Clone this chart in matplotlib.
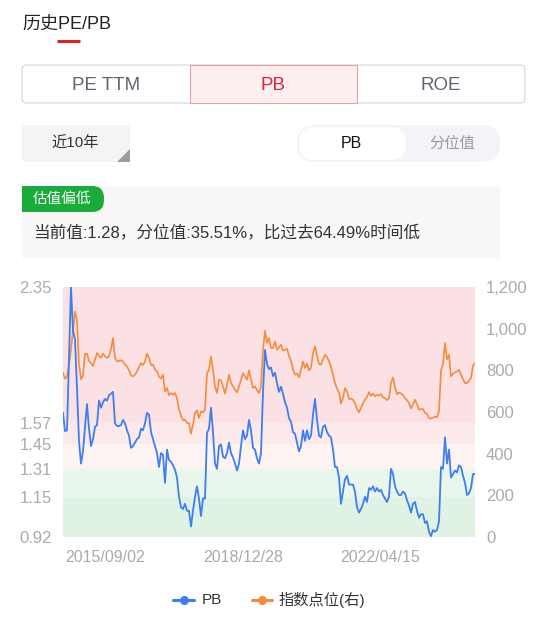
import matplotlib
matplotlib.use("Agg")
import matplotlib.pyplot as plt
import matplotlib.dates as mdates
from matplotlib.patches import FancyBboxPatch, Rectangle, Polygon
from matplotlib.ticker import FixedLocator, FuncFormatter
import pandas as pd

plt.rcParams['font.family'] = ['Liberation Sans', 'Noto Sans CJK SC', 'DejaVu Sans']

# ---- data ----
start_date = "2014-08-29"
end_date = "2024-07-28"

pb = [
    1.63, 1.525, 1.53, 1.95, 2.35, 2.10, 2.05, 1.77, 1.47, 1.34,
    1.41, 1.55, 1.68, 1.54, 1.44, 1.48, 1.55, 1.56, 1.70, 1.66,
    1.69, 1.71, 1.70, 1.73, 1.74, 1.75, 1.57, 1.555, 1.555, 1.56,
    1.59, 1.57, 1.53, 1.50, 1.43, 1.44, 1.46, 1.48, 1.49, 1.54,
    1.53, 1.57, 1.63, 1.62, 1.52, 1.48, 1.44, 1.40, 1.32, 1.40,
    1.39, 1.23, 1.42, 1.36,
    1.35, 1.33, 1.305, 1.26, 1.15, 1.09, 1.08, 1.11, 1.07, 1.07,
    0.98, 1.07, 1.15, 1.21, 1.14, 1.04, 1.14, 1.14, 1.515, 1.54,
    1.66, 1.52, 1.34, 1.31, 1.44, 1.45, 1.38, 1.37, 1.40, 1.46,
    1.40, 1.375, 1.34, 1.30, 1.34, 1.44, 1.53, 1.48, 1.50, 1.59,
    1.53, 1.43, 1.42, 1.37, 1.34, 1.40, 1.75, 1.99, 1.91, 1.88,
    1.89, 1.84,
    1.86, 1.80, 1.75, 1.78, 1.74, 1.69, 1.66, 1.60, 1.58, 1.52,
    1.51, 1.46, 1.41, 1.44, 1.53, 1.47, 1.53, 1.48, 1.50, 1.62,
    1.71, 1.59, 1.50, 1.49, 1.55, 1.56, 1.52, 1.50, 1.49, 1.42,
    1.32, 1.32, 1.26, 1.11, 1.18, 1.25, 1.27, 1.22, 1.22, 1.22,
    1.18, 1.09, 1.06, 1.08, 1.11, 1.15, 1.12, 1.20, 1.19, 1.21,
    1.18, 1.20, 1.18,
    1.19, 1.16, 1.14, 1.12, 1.15, 1.31, 1.28, 1.21, 1.18, 1.16,
    1.16, 1.18, 1.17, 1.13, 1.10, 1.06, 1.11, 1.12, 1.07, 1.03,
    1.05, 1.05, 1.00, 1.01, 0.95, 0.925, 0.96, 0.95, 0.96, 1.01,
    1.32, 1.31, 1.49, 1.34, 1.42, 1.26, 1.28, 1.30, 1.29, 1.33,
    1.32, 1.27, 1.23, 1.16, 1.17, 1.20, 1.28, 1.28,
]

index_pts = [
    787, 760, 770, 830, 900, 990, 1083, 1040, 830, 757,
    775, 880, 880, 845, 835, 820, 851, 883, 870, 860,
    880, 867, 860, 867, 900, 955, 860, 843, 845, 848,
    843, 827, 819, 800, 775, 771, 779, 795, 815, 835,
    825, 843, 880, 860, 825, 827, 803, 795, 770, 760,
    780, 699, 715, 680,
    691, 683, 691, 667, 611, 582, 560, 563, 547, 547,
    495, 539, 595, 608, 571, 603, 598, 611, 787, 803,
    867, 800, 723, 691, 755, 752, 723, 688, 731, 779,
    739, 723, 707, 694, 723, 755, 787, 771, 755, 800,
    755, 715, 723, 704, 691, 723, 899, 990, 931, 955,
    907, 907,
    939, 899, 910, 923, 894, 899, 904, 870, 846, 803,
    779, 784, 766, 803, 843, 811, 832, 800, 811, 883,
    915, 870, 830, 827, 854, 875, 864, 843, 816, 779,
    739, 713, 694, 640, 667, 715, 699, 662, 664, 659,
    643, 614, 598, 619, 643, 659, 672, 696, 678, 688,
    675, 683, 678,
    686, 670, 667, 657, 667, 739, 766, 720, 685, 694,
    688, 681, 667, 657, 643, 617, 637, 659, 638, 611,
    614, 614, 595, 592, 571, 569, 573, 579, 573, 603,
    800, 827, 931, 853, 875, 771, 784, 790, 795, 803,
    779, 758, 739, 739, 750, 763, 822, 835,
]

pb_ticks = [0.92, 1.15, 1.31, 1.45, 1.57, 2.35]
idx_ticks = [0, 200, 400, 600, 800, 1000, 1200]
date_ticks = ["2015-09-02", "2018-12-28", "2022-04-15"]

# valuation bands (low, high, colour)
bands = [
    (1.57, 2.35, '#fbe1e3'),
    (1.45, 1.57, '#fce9ea'),
    (1.31, 1.45, '#fdf3f3'),
    (1.15, 1.31, '#e9f6ec'),
    (0.92, 1.15, '#dff2e4'),
]

tabs = ["PE TTM", "PB", "ROE"]
info_text = "当前值:1.28，分位值:35.51%，比过去64.49%时间低"

dates = pd.date_range(start_date, end_date, periods=len(pb))

W, H = 550, 617
fig = plt.figure(figsize=(W / 100, H / 100), dpi=100)
fig.patch.set_facecolor('white')

# ---- UI layer in pixel coordinates ----
ui = fig.add_axes([0, 0, 1, 1])
ui.set_xlim(0, W)
ui.set_ylim(H, 0)
ui.axis('off')

ui.text(22, 25, "历史PE/PB", fontsize=13, color='#222222', va='center', ha='left')
ui.plot([57, 80], [41, 41], color='#e02020', lw=2.2, solid_capstyle='butt')

ui.add_patch(FancyBboxPatch((22, 65), 503, 38, boxstyle="round,pad=0,rounding_size=5",
                            fc='white', ec='#d4d4d4', lw=0.8))
ui.add_patch(Rectangle((190, 65), 167, 38, fc='#fdeef0', ec='#e2a4ab', lw=0.8))
tab_x = [106, 273.5, 441]
for t, x in zip(tabs, tab_x):
    ui.text(x, 85, t, fontsize=13.5, ha='center', va='center',
            color='#d9263b' if t == "PB" else '#5e6472')

ui.add_patch(FancyBboxPatch((22, 125), 108, 37, boxstyle="round,pad=0,rounding_size=4",
                            fc='#f4f4f4', ec='none'))
ui.add_patch(Polygon([(130, 149), (130, 162), (117, 162)], closed=True, fc='#9b9b9b', ec='none'))
ui.text(75, 144, "近10年", fontsize=11, ha='center', va='center', color='#333333')

ui.add_patch(FancyBboxPatch((297, 125), 203, 37, boxstyle="round,pad=0,rounding_size=18",
                            fc='#f2f4f7', ec='none'))
ui.add_patch(FancyBboxPatch((299, 127), 107, 33, boxstyle="round,pad=0,rounding_size=16",
                            fc='white', ec='none'))
ui.text(351, 144, "PB", fontsize=11.5, ha='center', va='center', color='#111111')
ui.text(452, 144, "分位值", fontsize=11, ha='center', va='center', color='#9a9a9a')

ui.add_patch(Rectangle((22, 186), 478, 72, fc='#f7f7f7', ec='none'))
ui.add_patch(FancyBboxPatch((22, 186), 82, 26, boxstyle="round,pad=0,rounding_size=12",
                            fc='#1aab3b', ec='none'))
ui.add_patch(Rectangle((22, 186), 40, 26, fc='#1aab3b', ec='none'))
ui.text(62, 199, "估值偏低", fontsize=10.5, ha='center', va='center', color='white')
ui.text(33, 233, info_text, fontsize=12, ha='left', va='center', color='#333333')

# legend
ui.plot([173, 194], [600, 600], color='#3d7ef2', lw=2.2, solid_capstyle='round')
ui.plot([183.5], [600], 'o', color='#3d7ef2', ms=5.5)
ui.text(202, 600, "PB", fontsize=11, ha='left', va='center', color='#333333')
ui.plot([252, 272], [600, 600], color='#f78b3d', lw=2.2, solid_capstyle='round')
ui.plot([262], [600], 'o', color='#f78b3d', ms=5.5)
ui.text(279, 600, "指数点位(右)", fontsize=11, ha='left', va='center', color='#333333')

# ---- chart ----
ax = fig.add_axes([63 / W, 1 - 537 / H, 412 / W, 250 / H])
ax.patch.set_visible(False)
ax2 = ax.twinx()
ax2.patch.set_visible(False)

for lo, hi, c in bands:
    ax.axhspan(lo, hi, color=c, lw=0, zorder=0)

ax.set_xlim(pd.Timestamp(start_date), pd.Timestamp(end_date))
ax.set_ylim(0.92, 2.35)
ax2.set_ylim(0, 1200)

ax.plot(dates, index_pts, color='#f78b3d', lw=1.2, zorder=2, transform=ax2.transData)
ax.plot(dates, pb, color='#3d7ef2', lw=1.3, zorder=3)
ax.set_ylim(0.92, 2.35)
ax.set_xlim(pd.Timestamp(start_date), pd.Timestamp(end_date))

ax.yaxis.set_major_locator(FixedLocator(pb_ticks))
ax.yaxis.set_major_formatter(FuncFormatter(lambda v, p: f"{v:.2f}"))
ax2.yaxis.set_major_locator(FixedLocator(idx_ticks))
ax2.yaxis.set_major_formatter(FuncFormatter(lambda v, p: f"{int(v):,}"))
ax.set_xticks([pd.Timestamp(d) for d in date_ticks])
ax.xaxis.set_major_formatter(mdates.DateFormatter("%Y/%m/%d"))

for a in (ax, ax2):
    for s in a.spines.values():
        s.set_visible(False)
ax.tick_params(axis='y', length=0, pad=8, labelsize=12, labelcolor='#aaaaaa')
ax2.tick_params(axis='y', length=0, pad=8, labelsize=12, labelcolor='#aaaaaa')
ax.tick_params(axis='x', length=0, pad=9, labelsize=11.5, labelcolor='#aaaaaa')

fig.savefig("out.png", dpi=100, facecolor='white')
